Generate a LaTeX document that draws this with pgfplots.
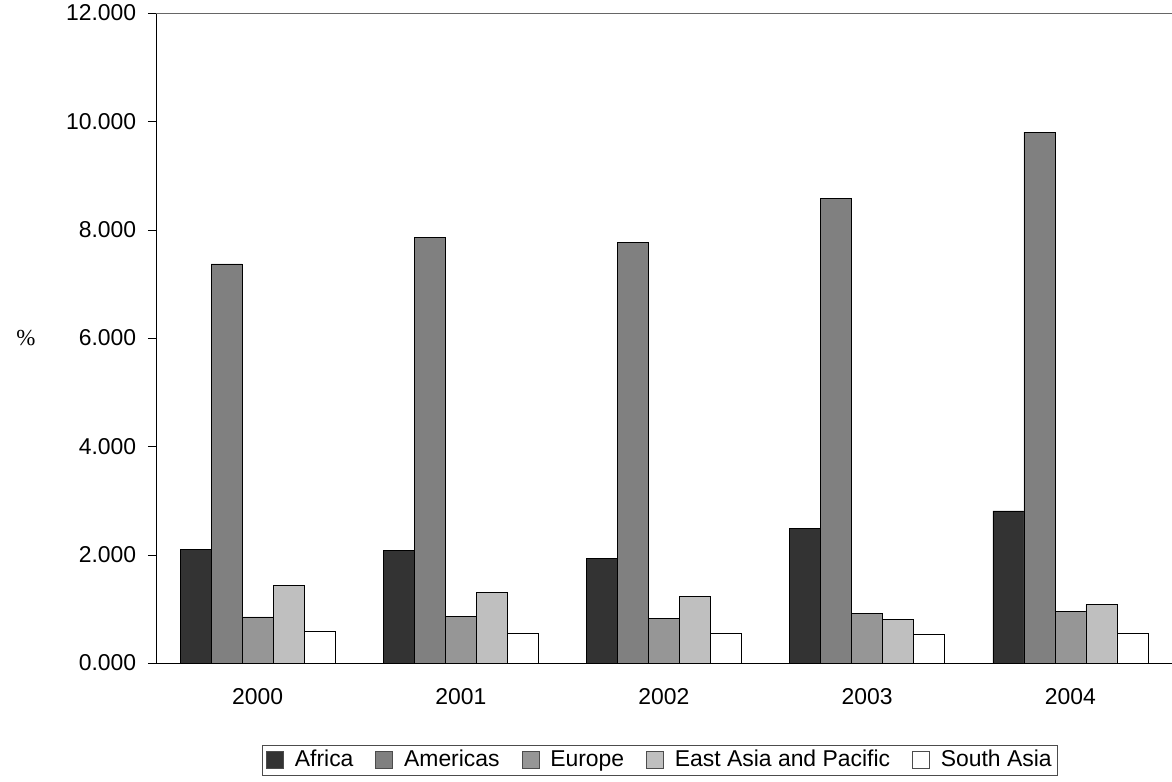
\documentclass[border=0pt]{standalone}
\usepackage{pgfplots}
\pgfplotsset{compat=1.18}
\usepackage{fontspec}
\setmainfont{Liberation Sans}
\newfontfamily\serifpct{Liberation Serif}
\begin{document}
\fontsize{23}{27}\selectfont
\begin{tikzpicture}
\useasboundingbox (-156bp,-119bp) rectangle (1016bp,663bp);
\begin{axis}[
  scale only axis, width=1016bp, height=650bp,
  at={(0,0)}, anchor=south west,
  ymin=0, ymax=12, xmin=-0.5, xmax=4.5,
  ytick={0,2,...,12},
  yticklabel style={xshift=-4bp,/pgf/number format/.cd,fixed,fixed zerofill,precision=3,use period,1000 sep={},assume math mode=true},
  ticklabel style={font=\fontsize{23}{27}\selectfont},
  axis x line*=bottom, axis y line*=left,
  xtick={0,...,4}, xticklabels={2000,2001,2002,2003,2004},
  extra x ticks={0.5,1.5,2.5,3.5}, extra x tick labels={},
  extra x tick style={major tick length=10bp, tick style={black}},
  major x tick style={draw=none},
  major y tick style={black}, major tick length=8bp,
  tick align=outside,
  xticklabel style={yshift=-10bp},
  ybar, bar width=31bp,
  axis line style={black, -},
  ylabel={\serifpct\%}, ylabel style={rotate=-90, at={(-0.128,0.5)}, anchor=center, font=\fontsize{23}{27}\selectfont},
  legend style={at={(0.496,-0.126)}, anchor=north, legend columns=5, draw=black!70, font=\fontsize{23}{27}\selectfont, inner ysep=3bp, inner xsep=4bp, /tikz/every even column/.append style={column sep=20bp}, /tikz/every odd column/.append style={column sep=9bp}},
  legend image code/.code={\draw[#1, draw=black!70, line width=0.7pt] (0bp,-8.5bp) rectangle (17bp,8.5bp);},
  every axis plot/.append style={draw=black, line width=0.5pt},
]
\addplot[fill=black!80, bar shift=-62bp] coordinates {(0,2.10) (1,2.08) (2,1.93) (3,2.48) (4,2.81)};
\addplot[fill=black!50, bar shift=-31bp] coordinates {(0,7.37) (1,7.86) (2,7.76) (3,8.58) (4,9.80)};
\addplot[fill=black!41, bar shift=0bp] coordinates {(0,0.85) (1,0.86) (2,0.82) (3,0.91) (4,0.95)};
\addplot[fill=black!25, bar shift=31bp] coordinates {(0,1.44) (1,1.31) (2,1.23) (3,0.81) (4,1.08)};
\addplot[fill=white, bar shift=62bp] coordinates {(0,0.58) (1,0.55) (2,0.55) (3,0.53) (4,0.55)};
\legend{Africa,Americas,Europe,East Asia and Pacific,South Asia}
\draw[black!60] (rel axis cs:0,1) -- (rel axis cs:1,1);
\end{axis}
\end{tikzpicture}
\end{document}
